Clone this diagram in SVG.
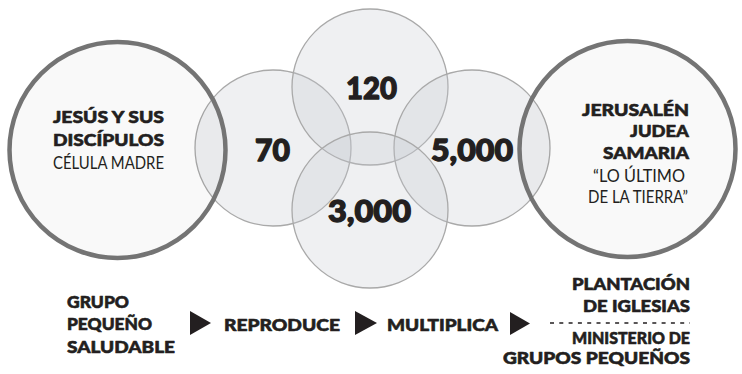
<svg xmlns="http://www.w3.org/2000/svg" width="742" height="374" viewBox="0 0 742 374">
<style>
.small{fill:#c5c9d0;fill-opacity:0.27;stroke:#a9a9a9;stroke-width:1.3}
.big{fill:#000;fill-opacity:0.025;stroke:#747474;stroke-width:4.5}
.b{font-family:"Lato","Open Sans","Liberation Sans",sans-serif;font-weight:900;fill:#231f20;stroke:#231f20;stroke-width:0.6;stroke-linejoin:round}
.l{font-family:"Lato","Open Sans","Liberation Sans",sans-serif;font-weight:400;fill:#231f20}
.num{font-size:30px;stroke-width:1.3}
.t{font-size:17px}
.tri{fill:#231f20}
</style>
<rect width="742" height="374" fill="#fff"/>
<g id="c70"><circle class="small" cx="273" cy="148" r="78"/><text class="b num" x="255" y="161" textLength="35" lengthAdjust="spacingAndGlyphs">70</text></g>
<g id="c120"><circle class="small" cx="370" cy="87" r="78"/><text class="b num" x="346" y="99" textLength="51" lengthAdjust="spacingAndGlyphs">120</text></g>
<g id="c5000"><circle class="small" cx="472" cy="148" r="78"/><text class="b num" x="431" y="161" textLength="82" lengthAdjust="spacingAndGlyphs">5,000</text></g>
<g id="c3000"><circle class="small" cx="370" cy="210" r="78"/><text class="b num" x="328" y="222" textLength="83" lengthAdjust="spacingAndGlyphs">3,000</text></g>
<g id="jesus">
<circle class="big" cx="117.5" cy="150" r="108"/>
<text class="b t" x="53" y="123" textLength="111" lengthAdjust="spacingAndGlyphs">JESÚS Y SUS</text>
<text class="b t" x="53" y="146" textLength="111" lengthAdjust="spacingAndGlyphs">DISCÍPULOS</text>
<text class="l t" x="53" y="169" textLength="111" lengthAdjust="spacingAndGlyphs">CÉLULA MADRE</text>
</g>
<g id="jerusalen">
<circle class="big" cx="627.5" cy="149" r="108"/>
<text class="b t" x="582" y="116" textLength="107" lengthAdjust="spacingAndGlyphs">JERUSALÉN</text>
<text class="b t" x="630" y="137" textLength="59" lengthAdjust="spacingAndGlyphs">JUDEA</text>
<text class="b t" x="603" y="159" textLength="86" lengthAdjust="spacingAndGlyphs">SAMARIA</text>
<text class="l t" x="593" y="182" textLength="92" lengthAdjust="spacingAndGlyphs">“LO ÚLTIMO</text>
<text class="l t" x="588" y="203" textLength="100" lengthAdjust="spacingAndGlyphs">DE LA TIERRA”</text>
</g>
<g id="grupo">
<text class="b t" x="67" y="308" textLength="62" lengthAdjust="spacingAndGlyphs">GRUPO</text>
<text class="b t" x="67" y="330" textLength="85" lengthAdjust="spacingAndGlyphs">PEQUEÑO</text>
<text class="b t" x="67" y="353" textLength="108" lengthAdjust="spacingAndGlyphs">SALUDABLE</text>
</g>
<g id="reproduce"><text class="b t" x="224" y="331" textLength="116" lengthAdjust="spacingAndGlyphs">REPRODUCE</text></g>
<g id="multiplica"><text class="b t" x="387" y="331" textLength="111" lengthAdjust="spacingAndGlyphs">MULTIPLICA</text></g>
<g id="resultado">
<text class="b t" x="572" y="290" textLength="118" lengthAdjust="spacingAndGlyphs">PLANTACIÓN</text>
<text class="b t" x="583" y="312" textLength="107" lengthAdjust="spacingAndGlyphs">DE IGLESIAS</text>
<line x1="550" y1="323" x2="690" y2="323" stroke="#231f20" stroke-width="1.3" stroke-dasharray="4 5.3"/>
<text class="b t" x="572" y="344" textLength="118" lengthAdjust="spacingAndGlyphs">MINISTERIO DE</text>
<text class="b t" x="503" y="364" textLength="187" lengthAdjust="spacingAndGlyphs">GRUPOS PEQUEÑOS</text>
</g>
<g id="connectors">
<polygon class="tri" points="190,311 211,323 190,335"/>
<polygon class="tri" points="355,311 377,323 355,335"/>
<polygon class="tri" points="510,312 530,323.5 510,335"/>
</g>
</svg>
